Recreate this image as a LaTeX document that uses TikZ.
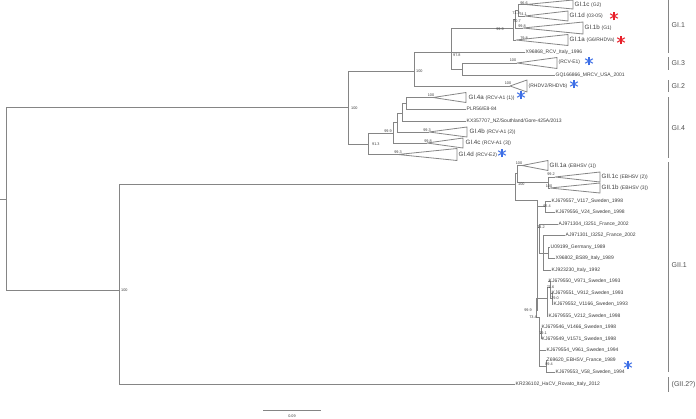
\documentclass[tikz,border=0pt]{standalone}
\usepackage{fontspec}
\setmainfont{Liberation Sans}
\definecolor{cinzaRamo}{HTML}{858585}
\definecolor{cinzaTexto}{HTML}{3C3C3C}
\definecolor{vermelhoAst}{HTML}{E8202A}
\definecolor{azulAst}{HTML}{3D6FE6}
\newcommand{\pq}{\fontsize{5}{6}\selectfont}
% triangulo de clado colapsado: apice, comprimento, meia altura
\newcommand{\triangulo}[3]{\draw[ramo, line join=round] #1 -- ++(#2,-#3) -- ++(0,2*#3) -- cycle;}
% asterisco de seis bracos: cor, posicao
\newcommand{\asterisco}[2]{\foreach \a in {90,30,-30} \draw[#1, line width=1.05pt] #2 ++(\a:4.4) -- ++(\a+180:8.8);}

\begin{document}
\begin{tikzpicture}[
    x=1pt,
    y=-1pt,
    ramo/.style={draw=cinzaRamo, line width=0.8pt},
    folha/.style={anchor=west, inner sep=0.5pt, text=cinzaTexto, font=\pq},
    clado/.style={anchor=west, inner sep=0.5pt, text=cinzaTexto, font=\fontsize{6.2}{7}\selectfont},
    suporte/.style={inner sep=0pt, text=cinzaTexto, font=\fontsize{3.8}{4}\selectfont},
    grupo/.style={anchor=west, inner sep=0pt, text=cinzaTexto!90, font=\fontsize{7}{8}\selectfont}
]
\useasboundingbox (0,0) rectangle (696,418);

% Raiz e primeiros ramos
\coordinate (base) at (0,199);
\coordinate (raiz) at (6,199);
\coordinate (nGI) at (348,107.5);
\coordinate (nGIIx) at (119,290);
\draw[ramo] (base) -- (raiz);
\draw[ramo] (raiz) |- (nGI);
\draw[ramo] (raiz) |- (nGIIx);
\node[suporte, anchor=west] (sRaizGI) at (351,108) {100};
\node[suporte, anchor=west] (sGIIx) at (121,290) {100};

% Genogrupo GI: GI.1, GI.3 e GI.2
\coordinate (n100a) at (414,71.5);
\coordinate (n978) at (451,52);
\coordinate (n999a) at (513,28.5);
\coordinate (n707) at (515,19);
\coordinate (n713) at (518,10.5);
\coordinate (aGIc) at (526,4.5);
\coordinate (aGId) at (525,16);
\coordinate (aGIb) at (523,28);
\coordinate (aGIa) at (516,40);
\coordinate (fX96868) at (525,52);
\coordinate (nGI3) at (462,69);
\coordinate (aRCVE) at (517,63);
\coordinate (fGQ) at (555,75);
\coordinate (aRHDV2) at (510,86);
\draw[ramo] (nGI) |- (n100a);
\draw[ramo] (n100a) |- (n978);
\draw[ramo] (n100a) |- (aRHDV2);
\draw[ramo] (n978) |- (n999a);
\draw[ramo] (n978) |- (fX96868);
\draw[ramo] (n978) |- (nGI3);
\draw[ramo] (n999a) |- (n707);
\draw[ramo] (n999a) |- (aGIa);
\draw[ramo] (n707) |- (n713);
\draw[ramo] (n707) |- (aGIb);
\draw[ramo] (n713) |- (aGIc);
\draw[ramo] (n713) |- (aGId);
\draw[ramo] (nGI3) |- (aRCVE);
\draw[ramo] (nGI3) |- (fGQ);
\triangulo{(aGIc)}{47}{4.5}
\triangulo{(aGId)}{43}{5}
\triangulo{(aGIb)}{60}{6}
\triangulo{(aGIa)}{52}{5.5}
\triangulo{(aRCVE)}{40}{5.5}
\triangulo{(aRHDV2)}{17}{6}
\node[clado] (lGIc) at (574,4.5) {GI.1c {\pq(G2)}};
\node[clado] (lGId) at (569,16) {GI.1d {\pq(03-05)}};
\node[clado] (lGIb) at (584,28) {GI.1b {\pq(G1)}};
\node[clado] (lGIa) at (569,40) {GI.1a {\pq(G6/RHDVa)}};
\node[folha] (lX96868) at (fX96868) {X96868\_RCV\_Italy\_1996};
\node[folha] (lRCVE) at (558,62.5) {(RCV-E1)};
\node[folha] (lGQ) at (fGQ) {GQ166866\_MRCV\_USA\_2001};
\node[folha] (lRHDV2) at (528,86) {(RHDV2/RHDVb)};
\node[suporte, anchor=west] (s100a) at (416,71.5) {100};
\node[suporte, anchor=west] (s978) at (453,55.5) {97.8};
\node[suporte] (s999a) at (500,29) {99.9};
\node[suporte] (s713) at (516,13) {71.3};
\node[suporte] (s707) at (517,21.5) {70.7};
\node[suporte] (s966) at (524,3) {96.6};
\node[suporte] (s741) at (523,14.5) {74.1};
\node[suporte] (s998a) at (522,26) {99.8};
\node[suporte] (s798) at (524,38) {79.8};
\node[suporte] (sRCVE) at (513,60.5) {100};
\node[suporte] (sRHDV2) at (508,83.5) {100};

% Genogrupo GI: GI.4
\coordinate (n913) at (368,144);
\coordinate (n999b) at (393,133);
\coordinate (nGI4x) at (397,122);
\coordinate (nGI4y) at (402,113);
\coordinate (nGI4z) at (406,103);
\coordinate (aGI4a) at (433,97.5);
\coordinate (fPLR) at (466,109);
\coordinate (fKX) at (466,121);
\coordinate (aGI4b) at (429,132);
\coordinate (aGI4c) at (427,143);
\coordinate (aGI4d) at (398,154.5);
\draw[ramo] (nGI) |- (n913);
\draw[ramo] (n913) |- (n999b);
\draw[ramo] (n913) |- (aGI4d);
\draw[ramo] (n999b) |- (nGI4x);
\draw[ramo] (n999b) |- (aGI4c);
\draw[ramo] (nGI4x) |- (nGI4y);
\draw[ramo] (nGI4x) |- (aGI4b);
\draw[ramo] (nGI4y) |- (nGI4z);
\draw[ramo] (nGI4y) |- (fKX);
\draw[ramo] (nGI4z) |- (aGI4a);
\draw[ramo] (nGI4z) |- (fPLR);
\triangulo{(aGI4a)}{33}{5}
\triangulo{(aGI4b)}{38}{5}
\triangulo{(aGI4c)}{36}{5}
\triangulo{(aGI4d)}{59}{6}
\node[clado] (lGI4a) at (468,97.5) {GI.4a {\pq(RCV-A1 (1))}};
\node[folha] (lPLR) at (fPLR) {PLR56/E8-84};
\node[folha] (lKX) at (fKX) {KX357707\_NZ/Southland/Gore-425A/2013};
\node[clado] (lGI4b) at (469,132) {GI.4b {\pq(RCV-A1 (2))}};
\node[clado] (lGI4c) at (465,143) {GI.4c {\pq(RCV-A1 (3))}};
\node[clado] (lGI4d) at (458,155) {GI.4d {\pq(RCV-E2)}};
\node[suporte, anchor=west] (s913) at (372,144.5) {91.3};
\node[suporte] (s999b) at (388,131) {99.9};
\node[suporte] (sGI4a) at (431,95.5) {100};
\node[suporte] (sGI4b) at (427,130.5) {99.3};
\node[suporte] (sGI4c) at (428,141.5) {99.8};
\node[suporte] (sGI4d) at (398,152.5) {99.3};

% Genogrupo GII: clados EBHSV
\coordinate (nGII) at (515,184);
\coordinate (nEB) at (517,173);
\coordinate (aGII1a) at (522,165.5);
\coordinate (nEBb) at (548,182.5);
\coordinate (aGII1c) at (555,177);
\coordinate (aGII1b) at (550,188);
\draw[ramo] (nGIIx) |- (nGII);
\draw[ramo] (nGII) |- (nEB);
\draw[ramo] (nEB) |- (aGII1a);
\draw[ramo] (nEB) |- (nEBb);
\draw[ramo] (nEBb) |- (aGII1c);
\draw[ramo] (nEBb) |- (aGII1b);
\triangulo{(aGII1a)}{26}{5}
\triangulo{(aGII1c)}{45}{5}
\triangulo{(aGII1b)}{50}{5}
\node[clado] (lGII1a) at (549,165.5) {GII.1a {\pq(EBHSV (1))}};
\node[clado] (lGII1c) at (601,177) {GII.1c {\pq(EBHSV (2))}};
\node[clado] (lGII1b) at (601,188) {GII.1b {\pq(EBHSV (3))}};
\node[suporte, anchor=west] (sGII) at (518,184.5) {100};
\node[suporte] (sEB) at (519,163) {100};
\node[suporte] (s992) at (551,174.5) {99.2};
\node[suporte] (sGII1b) at (549,186) {100};

% Genogrupo GII: sequencias isoladas de GII.1
\coordinate (nG1) at (537,200);
\coordinate (n954) at (545,206.5);
\coordinate (n742) at (539,227);
\coordinate (nA) at (543,253);
\coordinate (nB) at (548,253);
\coordinate (n999c) at (536.5,310);
\coordinate (nC) at (547,298);
\coordinate (n716) at (550,287.5);
\coordinate (n790) at (552,298.5);
\coordinate (n734) at (539,317);
\coordinate (n791) at (541,333);
\coordinate (n894) at (546,366);
\coordinate (f557) at (551,201);
\coordinate (f556) at (555,212);
\coordinate (f304) at (558,224);
\coordinate (f301) at (565,235.5);
\coordinate (f199) at (550,247);
\coordinate (f802) at (555,258.5);
\coordinate (f230) at (551,270);
\coordinate (f550) at (548,281.5);
\coordinate (f551) at (551,293);
\coordinate (f552) at (553,304.5);
\coordinate (f555) at (548,316);
\coordinate (f546) at (541,327.5);
\coordinate (f549) at (541,339);
\coordinate (f554) at (546,350.5);
\coordinate (f620) at (546,360);
\coordinate (f553) at (555,372);
\draw[ramo] (nGII) |- (nG1);
\draw[ramo] (nG1) |- (n954);
\draw[ramo] (nG1) |- (n742);
\draw[ramo] (nG1) |- (n999c);
\draw[ramo] (n954) |- (f557);
\draw[ramo] (n954) |- (f556);
\draw[ramo] (n742) |- (f304);
\draw[ramo] (n742) |- (nA);
\draw[ramo] (nA) |- (f301);
\draw[ramo] (nA) |- (nB);
\draw[ramo] (nA) |- (f230);
\draw[ramo] (nB) |- (f199);
\draw[ramo] (nB) |- (f802);
\draw[ramo] (n999c) |- (nC);
\draw[ramo] (n999c) |- (n734);
\draw[ramo] (nC) |- (n716);
\draw[ramo] (nC) |- (f555);
\draw[ramo] (n716) |- (f550);
\draw[ramo] (n716) |- (n790);
\draw[ramo] (n790) |- (f551);
\draw[ramo] (n790) |- (f552);
\draw[ramo] (n734) |- (n791);
\draw[ramo] (n734) |- (f554);
\draw[ramo] (n734) |- (n894);
\draw[ramo] (n791) |- (f546);
\draw[ramo] (n791) |- (f549);
\draw[ramo] (n894) |- (f620);
\draw[ramo] (n894) |- (f553);
\node[folha] (l557) at (f557) {KJ679557\_V117\_Sweden\_1998};
\node[folha] (l556) at (f556) {KJ679556\_V24\_Sweden\_1998};
\node[folha] (l304) at (f304) {AJ971304\_I3251\_France\_2002};
\node[folha] (l301) at (f301) {AJ971301\_I3252\_France\_2002};
\node[folha] (l199) at (f199) {U09199\_Germany\_1989};
\node[folha] (l802) at (f802) {X96802\_BS89\_Italy\_1989};
\node[folha] (l230) at (f230) {KJ923230\_Italy\_1992};
\node[folha] (l550) at (f550) {KJ679550\_V971\_Sweden\_1993};
\node[folha] (l551) at (f551) {KJ679551\_V912\_Sweden\_1993};
\node[folha] (l552) at (f552) {KJ679552\_V1166\_Sweden\_1993};
\node[folha] (l555) at (f555) {KJ679555\_V212\_Sweden\_1998};
\node[folha] (l546) at (f546) {KJ679546\_V1466\_Sweden\_1998};
\node[folha] (l549) at (f549) {KJ679549\_V1571\_Sweden\_1998};
\node[folha] (l554) at (f554) {KJ679554\_V961\_Sweden\_1994};
\node[folha] (l620) at (f620) {Z69620\_EBHSV\_France\_1989};
\node[folha] (l553) at (f553) {KJ679553\_V58\_Sweden\_1994};
\node[suporte] (s954) at (547,206.5) {95.4};
\node[suporte] (s742) at (541,227.5) {74.2};
\node[suporte] (s999c) at (528,310) {99.9};
\node[suporte] (s734) at (533,317.5) {73.4};
\node[suporte] (s716) at (550.5,287.5) {71.6};
\node[suporte] (s790) at (555,298.5) {79.0};
\node[suporte] (s791) at (543,333.5) {79.1};
\node[suporte] (s894) at (549,364.5) {89.4};

% Ramo isolado (GII.2?)
\coordinate (fKR) at (515,384.5);
\draw[ramo] (nGIIx) |- (fKR);
\node[folha] (lKR) at (fKR) {KR236102\_HaCV\_Rovato\_Italy\_2012};

% Asteriscos
\asterisco{vermelhoAst}{(614,16)}
\asterisco{vermelhoAst}{(621,40)}
\asterisco{azulAst}{(589,61)}
\asterisco{azulAst}{(574,84)}
\asterisco{azulAst}{(521,95)}
\asterisco{azulAst}{(502,153)}
\asterisco{azulAst}{(628,365)}

% Barras dos genogrupos
\foreach \ya/\yb/\ym/\txt in {0/53/25/GI.1, 57/70/63/GI.3, 80/92/86/GI.2, 97/158/128/GI.4, 162/372/265/GII.1, 377/392/384.5/(GII.2?)} {
    \draw[ramo] (668,\ya) -- (668,\yb);
    \node[grupo] at (671.5,\ym) {\txt};
}

% Escala
\coordinate (escA) at (263,410);
\coordinate (escB) at (321,410);
\draw[ramo] (escA) -- (escB);
\node[suporte] (lEsc) at (292,416) {0.09};

\end{tikzpicture}
\end{document}
